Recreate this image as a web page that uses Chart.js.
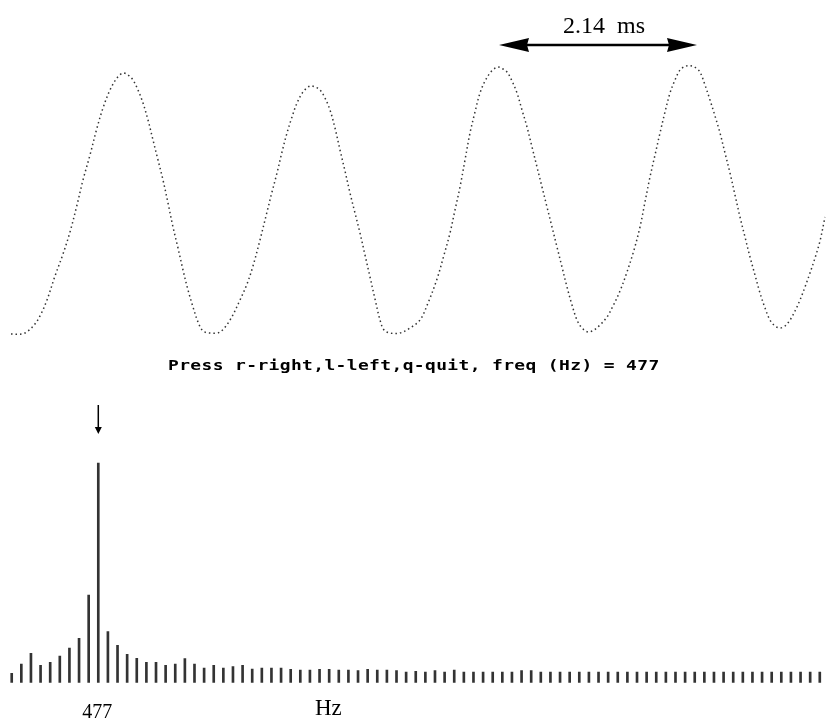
<!DOCTYPE html>
<html>
<head>
<meta charset="utf-8">
<script src="https://cdn.jsdelivr.net/npm/chart.js@4/dist/chart.umd.min.js"></script>
<style>
  html, body { margin: 0; padding: 0; background: #fff; }
  #page { position: relative; width: 826px; height: 722px; overflow: hidden; }
  canvas { position: absolute; left: 0; }
  #wave { top: 0; }
  #spec { top: 380px; }
  .lbl { position: absolute; white-space: pre; color: #000; }
  .serif { font-family: "Liberation Serif", "Times New Roman", serif; }
  #period { left: 563px; top: 13px; font-size: 24px; line-height: 24px; }
  #prompt { left: 168px; top: 358px; font-family: "DejaVu Sans Mono", monospace; font-weight: bold;
            font-size: 14px; line-height: 14px; letter-spacing: 0.3px; transform: scaleX(1.28); transform-origin: left top; }
  #peak { top: 701px; font-size: 20px; line-height: 20px; width: 60px; text-align: center; }
  #unit { left: 315px; top: 696px; font-size: 23px; line-height: 23px; }
</style>
</head>
<body>
<div id="page">
  <canvas id="wave" width="826" height="360"></canvas>
  <canvas id="spec" width="826" height="342"></canvas>
  <div id="period" class="lbl serif">2.14  ms</div>
  <div id="prompt" class="lbl">Press r-right,l-left,q-quit, freq (Hz) = 477</div>
  <div id="peak" class="lbl serif">477</div>
  <div id="unit" class="lbl serif">Hz</div>
</div>
<script>
// waveform: sample position and amplitude
const waveT = [11,22,28,35,41,47,55,63,70,77,83,90,97,103,110,117,123,128,133,138,143,148,153,158,163,168,173,178,183,188,193,198,203,210,220,230,240,247,253,260,267,272,277,282,287,292,297,303,310,315,320,325,330,335,340,345,350,355,360,365,370,375,380,384,390,400,410,420,428,437,444,450,455,460,465,470,475,480,485,490,494,498,503,507,512,517,522,527,532,537,542,547,552,557,562,567,572,577,582,588,594,600,607,613,620,627,634,640,645,650,655,660,665,670,675,680,686,692,696,700,705,710,715,720,725,730,735,740,745,750,755,760,765,770,775,780,785,790,795,800,805,810,815,820,825];
const waveV = [0,0,3,10,20,34,58,80,102,129,154,179,206,226,244,256,261,259,254,244,231,214,194,174,154,131,107,86,64,44,27,12,3,1,2,14,34,50,68,94,122,142,161,182,201,217,231,242,248,247,244,236,224,206,184,163,141,121,101,79,57,35,14,4,1,1,6,14,31,55,79,101,124,147,174,201,222,241,253,261,265,267,265,262,253,241,224,207,187,167,147,127,107,87,67,47,29,14,6,2,4,9,17,28,43,62,84,107,132,157,179,201,222,241,254,264,268,268,266,262,249,234,218,201,181,161,139,117,97,77,59,41,26,14,8,6,8,14,23,34,47,61,76,93,117];

// spectrum: 85 bins, 53 Hz apart, peak at 477 Hz
const PEAK_HZ = 477;
const specHz = [0,53,106,159,212,265,318,371,424,477,530,583,636,689,742,795,848,901,954,1007,1060,1113,1166,1219,1272,1325,1378,1431,1484,1537,1590,1643,1696,1749,1802,1855,1908,1961,2014,2067,2120,2173,2226,2279,2332,2385,2438,2491,2544,2597,2650,2703,2756,2809,2862,2915,2968,3021,3074,3127,3180,3233,3286,3339,3392,3445,3498,3551,3604,3657,3710,3763,3816,3869,3922,3975,4028,4081,4134,4187,4240,4293,4346,4399,4452];
const specMag = [9.3,18.7,29.3,17.3,20.3,26.7,34.7,44.3,87.7,219.7,51,37.3,28.3,24.3,20.3,20.3,17.3,18.7,24,18.7,14.7,17.3,14.7,16,17.3,13.7,14.7,14.7,14.7,13.3,12.7,12.7,13.3,13.3,12.7,12.7,12,13.3,12.7,12.7,12,10.7,11.3,10.7,12,10.7,12.7,10.7,10.7,10.7,10.7,10.7,10.7,12,12,10.7,10.7,10.7,10.7,10.7,10.7,10.7,10.7,10.7,10.7,10.7,10.7,10.7,10.7,10.7,10.7,10.7,10.7,10.7,10.7,10.7,10.7,10.7,10.7,10.7,10.7,10.7,10.7,10.7,10.7];

// period marker between 3rd and 4th crest
const periodFrom = 499, periodTo = 697, periodLevel = 289;

const periodArrow = {
  id: 'periodArrow',
  afterDatasetsDraw(chart) {
    const c = chart.ctx, xs = chart.scales.x, ys = chart.scales.y;
    const x1 = xs.getPixelForValue(periodFrom), x2 = xs.getPixelForValue(periodTo);
    const y = ys.getPixelForValue(periodLevel);
    c.save();
    c.strokeStyle = '#000'; c.fillStyle = '#000'; c.lineWidth = 2.5;
    c.beginPath(); c.moveTo(x1 + 25, y); c.lineTo(x2 - 25, y); c.stroke();
    [[x1, 1], [x2, -1]].forEach(([x, d]) => {
      c.beginPath();
      c.moveTo(x, y);
      c.lineTo(x + d * 30, y - 7);
      c.lineTo(x + d * 28, y);
      c.lineTo(x + d * 30, y + 7);
      c.closePath(); c.fill();
    });
    c.restore();
  }
};

const peakArrow = {
  id: 'peakArrow',
  afterDatasetsDraw(chart) {
    const c = chart.ctx;
    const bar = chart.getDatasetMeta(0).data[specHz.indexOf(PEAK_HZ)];
    const x = bar.x, top = bar.y;
    c.save();
    c.strokeStyle = '#000'; c.fillStyle = '#000'; c.lineWidth = 1.5;
    c.beginPath(); c.moveTo(x, top - 58); c.lineTo(x, top - 33); c.stroke();
    c.beginPath(); c.moveTo(x - 3.5, top - 36); c.lineTo(x + 3.5, top - 36); c.lineTo(x, top - 29); c.closePath(); c.fill();
    c.restore();
    document.getElementById('peak').style.left = (x - 31) + 'px';
  }
};

new Chart(document.getElementById('wave'), {
  type: 'line',
  data: {
    datasets: [{
      data: waveT.map((t, i) => ({ x: t, y: waveV[i] })),
      borderColor: '#333',
      borderWidth: 1.5,
      borderDash: [1.5, 3],
      pointRadius: 0,
      tension: 0.35,
      fill: false
    }]
  },
  options: {
    responsive: false,
    animation: false,
    layout: { padding: 0 },
    plugins: { legend: { display: false }, tooltip: { enabled: false } },
    scales: {
      x: { type: 'linear', min: 0, max: 826, display: false },
      y: { min: -26, max: 334, display: false }
    }
  },
  plugins: [periodArrow]
});

new Chart(document.getElementById('spec'), {
  type: 'bar',
  data: {
    labels: specHz,
    datasets: [{
      data: specMag,
      backgroundColor: '#333',
      barThickness: 2
    }]
  },
  options: {
    responsive: false,
    animation: false,
    layout: { padding: { left: 6.9, right: 1.4, top: 0, bottom: 39.3 } },
    plugins: { legend: { display: false }, tooltip: { enabled: false } },
    scales: {
      x: { display: false },
      y: { min: 0, max: 302.7, display: false }
    }
  },
  plugins: [peakArrow]
});
</script>
</body>
</html>
